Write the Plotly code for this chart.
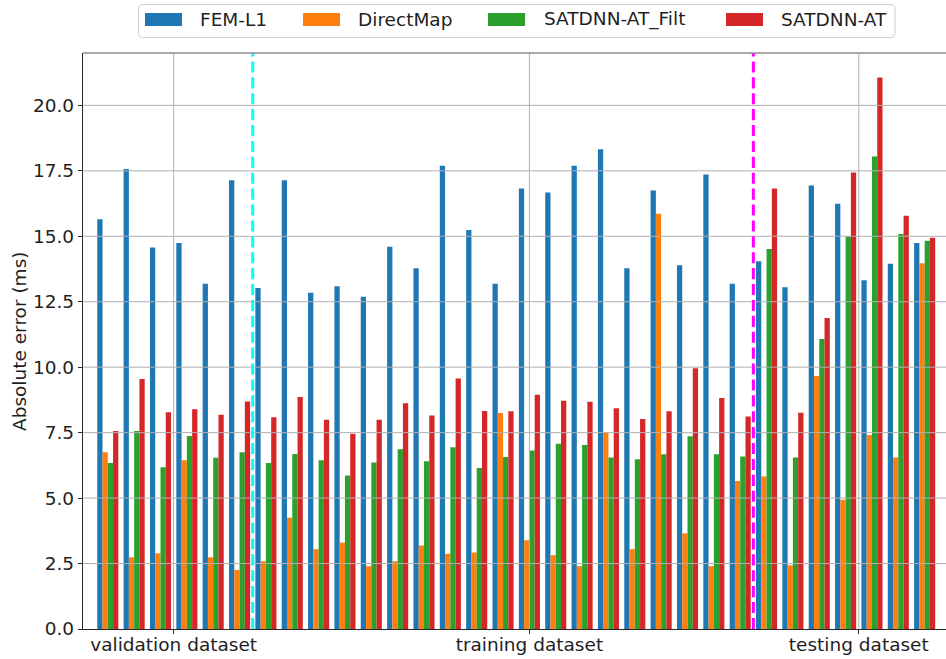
import plotly.graph_objects as go

# Per-case absolute activation-time error (ms) for each method
series_names = ["FEM-L1", "DirectMap", "SATDNN-AT_Filt", "SATDNN-AT"]
series_colors = ["#1f77b4", "#ff7f0e", "#2ca02c", "#d62728"]

fem_l1 = [15.65, 17.57, 14.57, 14.74, 13.19, 17.14, 13.02, 17.14, 12.84, 13.09,
          12.69, 14.60, 13.78, 17.69, 15.24, 13.19, 16.82, 16.67, 17.69, 18.32,
          13.78, 16.75, 13.89, 17.36, 13.19, 14.05, 13.05, 16.94, 16.24, 13.32,
          13.95, 14.74]
direct_map = [6.75, 2.74, 2.89, 6.45, 2.74, 2.26, 2.59, 4.25, 3.05, 3.30,
              2.40, 2.59, 3.19, 2.87, 2.92, 8.25, 3.39, 2.82, 2.40, 7.51,
              3.05, 15.86, 3.65, 2.40, 5.65, 5.82, 2.43, 9.66, 4.94, 7.41,
              6.55, 13.97]
satdnn_at_filt = [6.34, 7.56, 6.18, 7.37, 6.54, 6.75, 6.34, 6.68, 6.45, 5.86,
                  6.36, 6.87, 6.41, 6.94, 6.15, 6.57, 6.82, 7.08, 7.03, 6.55,
                  6.48, 6.67, 7.36, 6.67, 6.59, 14.51, 6.55, 11.08, 14.99, 18.05,
                  15.09, 14.83]
satdnn_at = [7.56, 9.55, 8.28, 8.39, 8.18, 8.69, 8.09, 8.86, 7.99, 7.46,
             7.99, 8.62, 8.15, 9.57, 8.33, 8.32, 8.95, 8.72, 8.68, 8.43,
             8.02, 8.32, 9.96, 8.82, 8.12, 16.82, 8.26, 11.88, 17.44, 21.06,
             15.78, 14.94]

# dataset split: 6 validation cases, 19 training cases, 7 testing cases
n_validation = 6
n_training = 19
n_testing = 7
dataset_tick_pos = [2.5, 16, 28.5]
dataset_tick_text = ["validation dataset", "training dataset", "testing dataset"]
y_ticks = [0, 2.5, 5, 7.5, 10, 12.5, 15, 17.5, 20]

all_series = [fem_l1, direct_map, satdnn_at_filt, satdnn_at]
n_cases = n_validation + n_training + n_testing
case_idx = list(range(n_cases))

FONT = "DejaVu Sans"
FS = 18.5
TXT = "#1f1f1f"

W, H = 946, 659
M_L, M_R, M_T, M_B = 83, 0, 53, 30
PW, PH = W - M_L - M_R, H - M_T - M_B

fig = go.Figure()
for name, color, vals in zip(series_names, series_colors, all_series):
    fig.add_trace(go.Bar(x=case_idx, y=vals, name=name,
                         marker=dict(color=color, line=dict(width=0)),
                         showlegend=False))

shapes = []
# grid drawn over the bars
for yv in y_ticks[1:]:
    shapes.append(dict(type="line", xref="paper", yref="y", x0=0, x1=1, y0=yv, y1=yv,
                       line=dict(color="#b0b0b0", width=1), layer="above"))
for xv in dataset_tick_pos:
    shapes.append(dict(type="line", xref="x", yref="paper", x0=xv, x1=xv, y0=0, y1=1,
                       line=dict(color="#b0b0b0", width=1), layer="above"))

# dataset boundaries
split_1 = n_validation - 0.5
split_2 = n_validation + n_training - 0.5
for xv, col in [(split_1, "#00ffff"), (split_2, "#ff00ff")]:
    shapes.append(dict(type="line", xref="x", yref="paper", x0=xv, x1=xv, y0=0, y1=1,
                       line=dict(color=col, width=3, dash="11.1px,4.8px"), layer="above"))

# top frame line
shapes.append(dict(type="line", xref="paper", yref="paper", x0=0, x1=1, y0=1, y1=1,
                   line=dict(color="#8c8c8c", width=1.5), layer="above"))

# legend box with rounded corners (paper units)
def px_x(p):
    return (p - M_L) / PW

def px_y(p):
    return (H - M_B - p) / PH

bx0, bx1, by0, by1 = px_x(138.5), px_x(895), px_y(37.5), px_y(4.5)
rx, ry = 4 / PW, 4 / PH
path = (f"M {bx0+rx},{by1} L {bx1-rx},{by1} Q {bx1},{by1} {bx1},{by1-ry} "
        f"L {bx1},{by0+ry} Q {bx1},{by0} {bx1-rx},{by0} "
        f"L {bx0+rx},{by0} Q {bx0},{by0} {bx0},{by0+ry} "
        f"L {bx0},{by1-ry} Q {bx0},{by1} {bx0+rx},{by1} Z")
shapes.append(dict(type="path", xref="paper", yref="paper", path=path,
                   fillcolor="rgba(255,255,255,0.8)", line=dict(color="#d0d0d0", width=1),
                   layer="above"))

annotations = []
swatch_left = [145, 303, 488, 726]
text_left = [198, 356, 541.5, 778.5]
for name, color, sx, tx in zip(series_names, series_colors, swatch_left, text_left):
    shapes.append(dict(type="rect", xref="paper", yref="paper",
                       x0=px_x(sx), x1=px_x(sx + 37), y0=px_y(26), y1=px_y(13),
                       fillcolor=color, line=dict(width=0), layer="above"))
    annotations.append(dict(text=name, xref="paper", yref="paper", x=px_x(tx), y=px_y(19.5),
                            xanchor="left", yanchor="middle", showarrow=False,
                            font=dict(family=FONT, size=FS, color=TXT)))

# y-axis title
annotations.append(dict(text="Absolute error (ms)", xref="paper", yref="paper",
                        x=0, y=0.5, xshift=19 - M_L, xanchor="center", yanchor="middle",
                        textangle=-90, showarrow=False,
                        font=dict(family=FONT, size=FS, color=TXT)))

x_left = -0.941
x_right = 31.81

fig.update_layout(
    width=W, height=H,
    margin=dict(l=M_L, r=M_R, t=M_T, b=M_B, pad=0),
    paper_bgcolor="white", plot_bgcolor="white",
    barmode="group", bargap=0.2, bargroupgap=0,
    font=dict(family=FONT, size=FS, color=TXT),
    shapes=shapes, annotations=annotations,
    xaxis=dict(range=[x_left, x_right], tickmode="array", tickvals=dataset_tick_pos,
               ticktext=dataset_tick_text, showgrid=False, zeroline=False,
               showline=True, linecolor="#262626", linewidth=1.3,
               ticks="outside", ticklen=4, tickwidth=1, tickcolor="#262626",
               ticklabelstandoff=-5,
               tickfont=dict(family=FONT, size=FS, color=TXT)),
    yaxis=dict(range=[0, 22], tickmode="array", tickvals=y_ticks, tickformat=".1f",
               showgrid=False, zeroline=False, showline=True, linecolor="#262626",
               linewidth=1.3, ticks="outside", ticklen=4, tickwidth=1,
               tickcolor="#262626", tickfont=dict(family=FONT, size=FS, color=TXT)),
)

fig.write_html("out.html")
